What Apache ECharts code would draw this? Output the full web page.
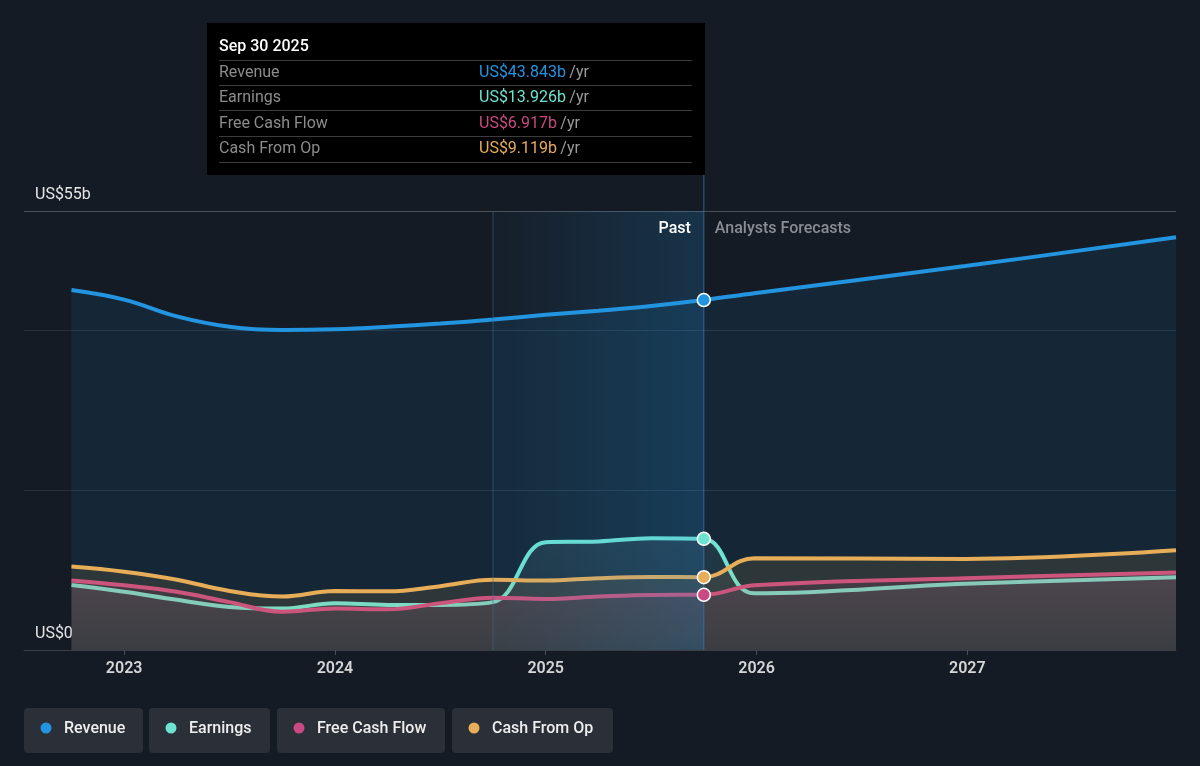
<!DOCTYPE html>
<html>
<head>
<meta charset="utf-8">
<script src="https://cdn.jsdelivr.net/npm/echarts@6/dist/echarts.min.js"></script>
<style>
  html, body { margin: 0; padding: 0; background: #151b24; }
  #chart { width: 1200px; height: 766px; }
</style>
</head>
<body>
<div id="chart"></div>
<script>
// quarterly reported values (US$ b), Sep 2022 .. Sep 2025
const pastDates = [2022.75, 2023.0, 2023.25, 2023.5, 2023.75, 2024.0, 2024.25, 2024.5, 2024.75, 2025.0, 2025.25, 2025.5, 2025.75];
// analyst forecasts, year end
const forecastDates = [2025.99, 2026.99, 2027.99];

const revenuePast = [45.1, 43.9, 41.8, 40.5, 40.1, 40.2, 40.5, 40.9, 41.4, 42.0, 42.5, 43.1, 43.843];
const revenueForecast = [44.7, 48.1, 51.7];
const earningsPast = [8.15, 7.3, 6.3, 5.4, 5.2, 5.85, 5.65, 5.65, 6.0, 13.5, 13.6, 14.0, 13.926];
const earningsForecast = [7.1, 8.3, 9.1];
const fcfPast = [8.7, 8.1, 7.3, 6.0, 4.8, 5.2, 5.1, 5.85, 6.55, 6.4, 6.7, 6.9, 6.917];
const fcfForecast = [8.1, 9.0, 9.7];
const cfoPast = [10.45, 9.8, 8.8, 7.4, 6.7, 7.4, 7.35, 8.0, 8.8, 8.7, 9.0, 9.15, 9.119];
const cfoForecast = [11.5, 11.4, 12.5];

const yearTicks = [2023, 2024, 2025, 2026, 2027];
const yTicks = [0, 55];
const seriesNames = ["Revenue", "Earnings", "Free Cash Flow", "Cash From Op"];
const seriesColors = ["#2394e0", "#6ee3d2", "#c94a83", "#e8ad58"];
const tooltipDate = "Sep 30 2025";
const tooltipValues = ["US$43.843b", "US$13.926b", "US$6.917b", "US$9.119b"];

const bandStart = 2024.75;
const lastReported = 2025.75;

const chart = echarts.init(document.getElementById("chart"));

function buildData(past, forecast) {
  const dates = pastDates.concat(forecastDates);
  const vals = past.concat(forecast);
  return dates.map((d, i) => [d, vals[i]]);
}

function vGrad(rgb, a0, a1) {
  return new echarts.graphic.LinearGradient(0, 0, 0, 1, [
    { offset: 0, color: "rgba(" + rgb + "," + a0 + ")" },
    { offset: 1, color: "rgba(" + rgb + "," + a1 + ")" }
  ]);
}

const areaFills = [
  "rgba(35,148,224,0.14)",
  vGrad("150,200,205", 0.16, 0.06),
  vGrad("201,74,131", 0.22, 0.08),
  "rgba(232,173,88,0.17)"
];
// draw order: revenue bottom, then earnings, fcf, cash from op on top
const seriesZ = [1, 2, 3, 4];

const pastLists = [revenuePast, earningsPast, fcfPast, cfoPast];
const forecastLists = [revenueForecast, earningsForecast, fcfForecast, cfoForecast];

const series = seriesNames.map((name, i) => ({
  name: name,
  type: "line",
  data: buildData(pastLists[i], forecastLists[i]),
  smooth: 0.4,
  symbol: "none",
  z: seriesZ[i],
  lineStyle: { width: 4, color: seriesColors[i] },
  itemStyle: { color: seriesColors[i] },
  areaStyle: { color: areaFills[i], origin: "start" },
  emphasis: { disabled: true },
  silent: true
}));

// markers at the last reported date, above the highlight band
seriesNames.forEach((name, i) => {
  const past = pastLists[i];
  series.push({
    name: name + " marker",
    type: "scatter",
    data: [[pastDates[past.length - 1], past[past.length - 1]]],
    symbol: "circle",
    symbolSize: 13,
    z: 50,
    itemStyle: { color: seriesColors[i], borderColor: "#ffffff", borderWidth: 1.5, opacity: 1 },
    emphasis: { disabled: true },
    silent: true
  });
});

const option = {
  backgroundColor: "#151b24",
  animation: false,
  textStyle: { fontFamily: "Roboto, sans-serif" },
  grid: { left: 24, right: 24, top: 211, bottom: 116 },
  visualMap: {
    show: false,
    type: "piecewise",
    seriesIndex: 1,
    dimension: 0,
    pieces: [
      { lt: bandStart, color: "#8fcab8" },
      { gte: bandStart, lte: lastReported, color: "#6ee3d2" },
      { gt: lastReported, color: "#82d0bf" }
    ]
  },
  xAxis: {
    type: "value",
    min: 2022.525,
    max: 2027.99,
    axisLine: { show: true, lineStyle: { color: "#3a3f47", width: 1 } },
    axisTick: { show: true, customValues: yearTicks, length: 5, lineStyle: { color: "#4a4f57" } },
    axisLabel: {
      customValues: yearTicks,
      color: "#d6d6d6",
      fontSize: 16,
      fontWeight: 600,
      margin: 11,
      formatter: (v) => String(Math.round(v))
    },
    splitLine: { show: false }
  },
  yAxis: {
    type: "value",
    min: 0,
    max: 55,
    interval: 20,
    axisLine: { show: false },
    axisTick: { show: false },
    axisLabel: {
      inside: true,
      verticalAlign: "bottom",
      margin: 11,
      padding: [0, 0, 8, 0],
      color: "#e6e6e6",
      fontSize: 16,
      formatter: (v) => (yTicks.indexOf(v) >= 0 ? "US$" + v + (v ? "b" : "") : "")
    },
    splitLine: {
      show: true,
      lineStyle: { color: ["#3a3f47", "#27313d", "#27313d", "#4a4e55"], width: 1 }
    }
  },
  series: series
};

chart.setOption(option);

// annotations positioned through the axes
const xBand = chart.convertToPixel({ xAxisIndex: 0 }, bandStart);
const xLast = chart.convertToPixel({ xAxisIndex: 0 }, lastReported);
const yTop = chart.convertToPixel({ yAxisIndex: 0 }, 55);
const yZero = chart.convertToPixel({ yAxisIndex: 0 }, 0);

const boxLeft = 207, boxTop = 23, boxRight = Math.round(xLast) + 1, boxBottom = 175;
const rowY = [72, 97, 123, 148];
const sepY = [60, 85, 110, 136, 162];

const graphics = [];
// highlighted last reported year
graphics.push({
  type: "rect",
  shape: { x: xBand, y: yTop, width: xLast - xBand, height: yZero - yTop },
  style: {
    fill: new echarts.graphic.LinearGradient(0, 0, 1, 0, [
      { offset: 0, color: "rgba(35,148,224,0.03)" },
      { offset: 1, color: "rgba(35,148,224,0.20)" }
    ])
  },
  silent: true,
  z: 40
});
graphics.push({
  type: "line",
  shape: { x1: xBand, y1: yTop, x2: xBand, y2: yZero },
  style: { stroke: "rgba(60,110,150,0.55)", lineWidth: 1 },
  z: 41
});
graphics.push({
  type: "line",
  shape: { x1: xLast, y1: boxBottom, x2: xLast, y2: yZero },
  style: { stroke: "rgba(60,120,170,0.75)", lineWidth: 1 },
  z: 41
});
graphics.push({
  type: "rect",
  shape: { x: boxLeft, y: boxTop, width: boxRight - boxLeft, height: boxBottom - boxTop },
  style: { fill: "#000000" },
  z: 100
});
graphics.push({
  type: "text",
  x: 219, y: 47,
  style: { text: tooltipDate, fill: "#ffffff", fontSize: 16, fontWeight: 500, fontFamily: "Roboto", verticalAlign: "middle" },
  z: 101
});
sepY.forEach((y) => {
  graphics.push({
    type: "line",
    shape: { x1: 219, y1: y + 0.5, x2: 692, y2: y + 0.5 },
    style: { stroke: "#3c3c3c", lineWidth: 1 },
    z: 101
  });
});
seriesNames.forEach((name, i) => {
  graphics.push({
    type: "text",
    x: 219, y: rowY[i] + 1,
    style: { text: name, fill: "#8c8c8c", fontSize: 16, fontFamily: "Roboto", verticalAlign: "middle" },
    z: 101
  });
  graphics.push({
    type: "text",
    x: 479, y: rowY[i] + 1,
    style: {
      text: "{v|" + tooltipValues[i] + "} {u|/yr}",
      verticalAlign: "middle",
      rich: {
        v: { fill: seriesColors[i], fontSize: 16, fontFamily: "Roboto" },
        u: { fill: "#9a9a9a", fontSize: 16, fontFamily: "Roboto" }
      }
    },
    z: 101
  });
});
graphics.push({
  type: "text",
  x: xLast - 13, y: yTop + 18,
  style: { text: "Past", fill: "#ffffff", fontSize: 16, fontWeight: 500, fontFamily: "Roboto", align: "right", verticalAlign: "middle" },
  z: 60
});
graphics.push({
  type: "text",
  x: xLast + 11, y: yTop + 18,
  style: { text: "Analysts Forecasts", fill: "#8a8e94", fontSize: 16, fontWeight: 500, fontFamily: "Roboto", align: "left", verticalAlign: "middle" },
  z: 60
});

// legend chips
const chipX = [24, 149, 277, 452];
const chipW = [119, 121, 168, 161];
seriesNames.forEach((name, i) => {
  graphics.push({
    type: "rect",
    shape: { x: chipX[i], y: 708, width: chipW[i], height: 45, r: 4 },
    style: { fill: "#2a2f38" },
    z: 10
  });
  graphics.push({
    type: "circle",
    shape: { cx: chipX[i] + 22, cy: 728, r: 5.5 },
    style: { fill: seriesColors[i] },
    z: 11
  });
  graphics.push({
    type: "text",
    x: chipX[i] + 40, y: 729,
    style: { text: name, fill: "#eeeeee", fontSize: 16, fontWeight: 500, fontFamily: "Roboto", verticalAlign: "middle" },
    z: 11
  });
});

chart.setOption({ graphic: graphics });
</script>
</body>
</html>
